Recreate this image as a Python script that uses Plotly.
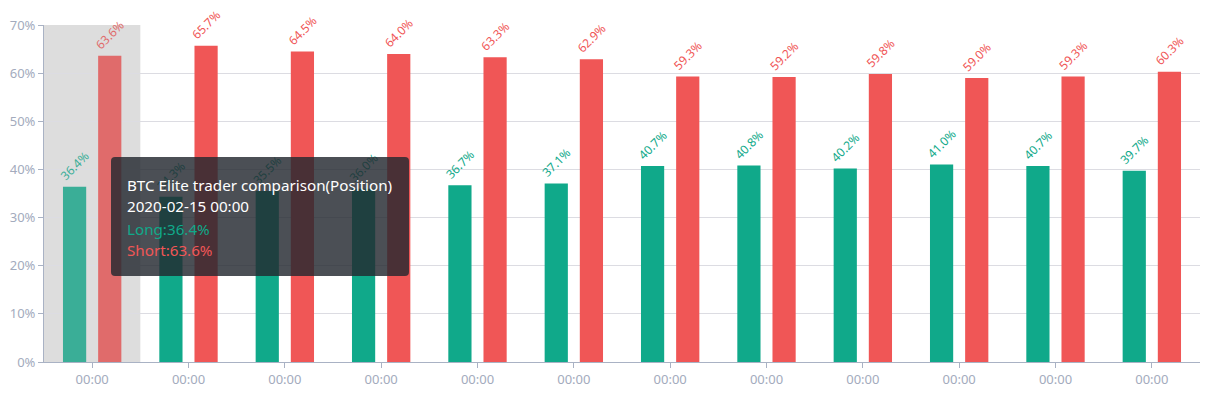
import plotly.graph_objects as go

x_labels = ["00:00"] * 12
long_vals = [36.4, 34.3, 35.5, 36.0, 36.7, 37.1, 40.7, 40.8, 40.2, 41.0, 40.7, 39.7]
short_vals = [63.6, 65.7, 64.5, 64.0, 63.3, 62.9, 59.3, 59.2, 59.8, 59.0, 59.3, 60.3]
tooltip_lines = ["BTC Elite trader comparison(Position)", "2020-02-15 00:00", "Long:36.4%", "Short:63.6%"]

GREEN = "#10A98A"
RED = "#F05656"
GREEN_HI = "#3AAE97"
RED_HI = "#E06B6B"
W, H = 1224, 394
L, R, T, B = 44, 24, 25, 32
PW, PH = W - L - R, H - T - B

xs = list(range(len(long_vals)))
g_cols = [GREEN_HI] + [GREEN] * (len(xs) - 1)
r_cols = [RED_HI] + [RED] * (len(xs) - 1)

fig = go.Figure()
fig.add_trace(go.Bar(x=xs, y=long_vals, name="Long", marker=dict(color=g_cols, line=dict(width=0)),
                     texttemplate="%{y:.1f}%", textposition="outside", textangle=-45,
                     textfont=dict(color=g_cols, size=12), constraintext="none", cliponaxis=False))
fig.add_trace(go.Bar(x=xs, y=short_vals, name="Short", marker=dict(color=r_cols, line=dict(width=0)),
                     texttemplate="%{y:.1f}%", textposition="outside", textangle=-45,
                     textfont=dict(color=r_cols, size=12), constraintext="none", cliponaxis=False))

# hover highlight band
fig.add_shape(type="rect", xref="x", yref="paper", x0=-0.5, x1=0.5, y0=0, y1=1,
              fillcolor="#DDDDDD", line=dict(width=0), layer="below")

def px2paper(px, py):
    return (px - L) / PW, (H - B - py) / PH

x0p, y0p = px2paper(111, 157)
x1p, y1p = px2paper(409, 276)
rx, ry = 4 / PW, 4 / PH
path = (f"M {x0p+rx},{y0p} L {x1p-rx},{y0p} Q {x1p},{y0p} {x1p},{y0p-ry} "
        f"L {x1p},{y1p+ry} Q {x1p},{y1p} {x1p-rx},{y1p} L {x0p+rx},{y1p} "
        f"Q {x0p},{y1p} {x0p},{y1p+ry} L {x0p},{y0p-ry} Q {x0p},{y0p} {x0p+rx},{y0p} Z")
fig.add_shape(type="path", path=path, xref="paper", yref="paper",
              fillcolor="rgba(35,40,48,0.82)", line=dict(width=0), layer="above")

line_y = [185, 206, 229, 250]
line_c = ["#FFFFFF", "#FFFFFF", GREEN, RED]
for txt, yy, cc in zip(tooltip_lines, line_y, line_c):
    ax, ay = px2paper(125, yy)
    fig.add_annotation(x=ax, y=ay, xref="paper", yref="paper", text=txt, showarrow=False,
                       xanchor="left", yanchor="middle", font=dict(size=15.2, color=cc))

fig.update_layout(
    width=W, height=H, margin=dict(l=L, r=R, t=T, b=B, autoexpand=False),
    paper_bgcolor="white", plot_bgcolor="white",
    barmode="group", bargap=0.27, bargroupgap=0.34,
    showlegend=False,
    font=dict(family="Noto Sans, Open Sans, sans-serif", color="#A3ABBD"),
)
fig.update_xaxes(tickmode="array", tickvals=xs, ticktext=x_labels, range=[-0.5, 11.5],
                 showline=True, linecolor="#A9B2C4", linewidth=1, ticks="outside", ticklen=5,
                 tickcolor="#A9B2C4", tickfont=dict(size=13, color="#A3ABBD"), showgrid=False,
                 automargin=False)
fig.update_yaxes(range=[0, 70], dtick=10, ticksuffix="%", showline=True, linecolor="#A9B2C4",
                 linewidth=1, ticks="outside", ticklen=5, tickcolor="#A9B2C4",
                 gridcolor="#DCDCE2", gridwidth=1, tickfont=dict(size=13, color="#A3ABBD"),
                 zeroline=False, automargin=False)

fig.write_html("out.html")
